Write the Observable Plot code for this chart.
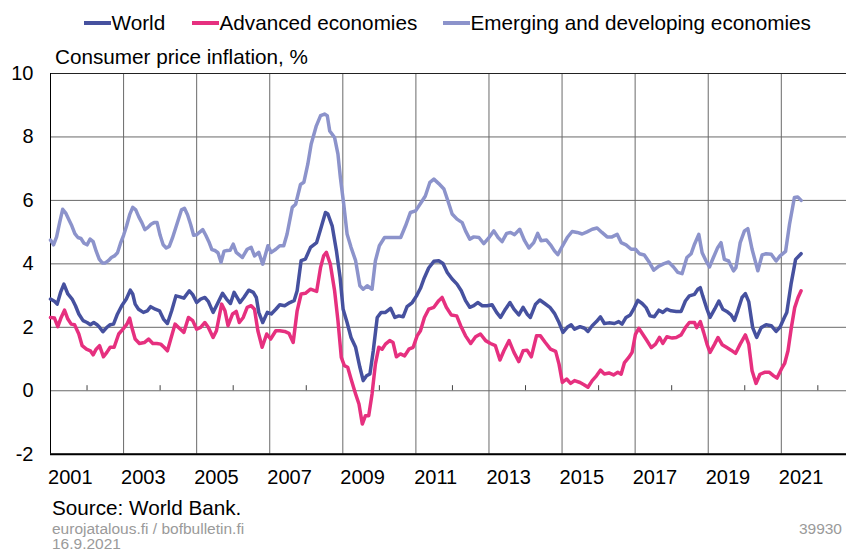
<!DOCTYPE html>
<html><head><meta charset="utf-8">
<script src="https://cdn.jsdelivr.net/npm/d3@7"></script>
<script src="https://cdn.jsdelivr.net/npm/@observablehq/plot@0.6"></script>
<style>
html,body{margin:0;padding:0;background:#fff;overflow:hidden}
#wrap{position:relative;width:846px;height:552px;font-family:"Liberation Sans",Arial,sans-serif;color:#000;overflow:hidden}
#wrap svg{position:absolute;left:0;top:0}
.t{position:absolute;white-space:nowrap;line-height:1}
.lg{position:absolute;top:12.5px;display:flex;align-items:center;gap:1px;font-size:20.7px;line-height:1;white-space:nowrap}
.lg .sw{width:27px;height:4px;display:inline-block}
</style></head><body><div id="wrap"></div>
<script>
// ---- data (months since Jan 2001, inflation %) ----
const seriesNames = ["World", "Advanced economies", "Emerging and developing economies"];
const seriesColors = ["#46519f", "#e6307f", "#8c93cb"];

const emergingMonths = [0,1,2,3,4,5,6,7,8,9,10,11,12,13,14,15,16,17,18,19,20,21,22,23,24,25,26,27,28,29,30,31,32,33,34,35,36,37,38,39,40,41,42,43,44,45,46,47,48,49,50,51,52,53,54,55,56,57,58,59,60,61,63,64.6,65.9,67,68.4,69.7,71.4,72.5,74,75.3,76.6,77.7,79.4,80.5,82.1,83.2,84.5,85.6,87.3,88.7,90,90.9,91.7,93.3,94.4,95.2,96.3,97.4,98.7,100.2,101.6,102.7,104,105.6,106.7,108,109.7,111.4,113.3,115,116.6,118.2,119.9,121.5,123.1,124.6,125.9,127.5,129.2,130.5,131.9,133.5,135.2,136.3,137.7,139,140.7,142.3,144,145.6,147,148.3,149.8,151.1,152.4,154.1,155.7,157.1,158.7,160,161.1,162.9,164.2,165.5,166.6,168,169.7,171.3,173,174.6,176.2,177.9,179.5,181.1,182.8,184.4,186.1,187.4,189,190.7,192.1,193.4,195,196.7,198.1,199.8,201.3,203,204.6,206,207.4,209,210.4,211.5,212.9,214,215.3,216.4,217.7,219.1,220.2,221.3,222.7,224.3,225.1,226.5,227.9,229,230.4,232.3,233.7,235,236.7,238.3,239.6,241.4,242.7,244.3,245.4,246.5];
const emergingValues = [4.75,4.6,4.85,5.3,5.72,5.6,5.4,5.2,4.95,4.83,4.8,4.65,4.6,4.78,4.7,4.4,4.15,4.03,4.03,4.1,4.2,4.25,4.35,4.65,4.9,5.2,5.55,5.78,5.7,5.48,5.3,5.08,5.15,5.25,5.3,5.3,4.9,4.6,4.5,4.55,4.8,5.1,5.4,5.7,5.75,5.55,5.25,4.9,4.92,5.0,5.08,4.9,4.7,4.45,4.42,4.35,4.05,4.4,4.42,4.43,4.62,4.36,4.2,4.46,4.52,4.25,4.36,3.99,4.57,4.36,4.46,4.57,4.57,4.94,5.78,5.88,6.5,6.57,7.14,7.77,8.35,8.67,8.72,8.67,8.19,7.98,7.46,6.72,5.88,4.94,4.52,4.1,3.31,3.2,3.31,3.2,4.1,4.57,4.83,4.83,4.83,4.83,5.2,5.62,5.67,5.9,6.14,6.57,6.67,6.53,6.36,5.99,5.57,5.41,5.3,5.04,4.78,4.85,4.83,4.64,4.83,5.04,4.83,4.7,4.96,4.99,4.92,5.09,4.73,4.5,4.67,4.96,4.73,4.75,4.6,4.41,4.29,4.54,4.83,5.02,4.99,4.94,5.01,5.09,5.13,4.99,4.85,4.85,4.93,4.67,4.6,4.46,4.46,4.32,4.28,4.04,3.8,3.93,4.0,4.06,3.9,3.73,3.69,4.2,4.32,4.62,4.93,4.35,4.09,3.9,4.2,4.51,4.67,4.14,4.09,3.78,3.88,4.67,5.04,5.11,4.46,3.78,4.28,4.32,4.3,4.09,4.25,4.39,5.25,6.09,6.11,6.0];

const worldMonths = [0,1.3,2.2,3.3,4.4,5.7,7.1,8.2,9.3,10.7,12,13.1,14.2,15.3,16.1,17.2,18.5,19.6,20.7,22,23.4,24.9,26.2,27,27.8,28.9,30.5,31.8,32.9,34.4,35.8,37.1,38.4,39.8,41.2,42.5,43.8,45.6,46.7,48,49.3,50.7,51.8,53.4,54.5,56.5,57.8,59.1,60.3,61.6,62.2,63.5,65.1,66.6,67.6,68.4,69.7,71.2,72.5,74,75.3,76.9,78.6,80,81,82.3,83.7,85.4,87.4,88.7,90.3,91.1,92.5,93.9,95.1,96.1,97.4,98.7,100.2,101.6,102.7,103.8,104.9,106,107.3,108.6,110,111.7,113.1,114.4,115.8,117.1,118.8,120.2,121.5,122.6,124.2,125.9,127.5,128.9,130.3,131.9,133.5,134.9,136.3,137.7,139,140.3,141.8,143.4,145,146.5,147.8,149.4,150.9,152.2,153.8,155.2,156.5,157.6,159.3,160.7,162.3,164,165.5,167,168.3,169.7,171,172.1,173.9,175.4,176.5,177.9,179.3,180.6,181.9,183.4,185.2,186.6,187.7,189,190.4,191.5,192.9,194.3,195.6,196.9,198.3,199.8,201.1,202.4,203.8,205.5,207.1,208.5,209.8,211.5,212.6,213.4,214.2,215.6,216.6,218.1,219.5,220.8,222.1,223.5,224.6,225.7,227.1,228.2,229.3,230.6,231.9,233.4,235,236.7,238.3,239.6,241,241.8,243.2,244.7,246.5];
const worldValues = [2.89,2.82,2.73,3.1,3.36,3.05,2.89,2.68,2.42,2.21,2.15,2.08,2.15,2.08,2.0,1.86,2.0,2.08,2.1,2.42,2.68,2.89,3.17,3.05,2.73,2.57,2.47,2.52,2.65,2.57,2.52,2.26,2.12,2.52,2.99,2.96,2.92,3.15,3.03,2.78,2.89,2.94,2.82,2.47,2.68,3.07,2.89,2.75,3.1,2.89,2.78,2.94,3.17,3.1,2.94,2.47,2.15,2.47,2.42,2.57,2.71,2.68,2.78,2.84,3.15,4.1,4.15,4.52,4.67,5.09,5.62,5.57,5.2,4.41,3.57,2.57,2.15,1.68,1.37,0.74,0.32,0.47,0.53,1.26,2.31,2.47,2.47,2.6,2.31,2.36,2.33,2.65,2.78,2.99,3.23,3.52,3.87,4.08,4.1,4.01,3.73,3.52,3.36,3.15,2.84,2.63,2.68,2.78,2.68,2.68,2.71,2.47,2.31,2.57,2.78,2.57,2.39,2.63,2.42,2.31,2.73,2.86,2.75,2.63,2.44,2.15,1.84,2.0,2.08,1.94,2.02,1.97,1.87,2.05,2.18,2.33,2.12,2.14,2.12,2.18,2.1,2.31,2.39,2.57,2.85,2.75,2.62,2.36,2.33,2.54,2.47,2.57,2.52,2.5,2.5,2.83,2.99,3.04,3.2,3.25,2.99,2.57,2.31,2.57,2.83,2.57,2.5,2.39,2.22,2.52,2.94,3.06,2.81,1.99,1.68,1.99,2.08,2.05,1.87,2.01,2.31,2.47,3.36,4.14,4.32];

const advancedMonths = [0,1.3,2.4,3.5,4.6,5.7,6.8,7.9,9.3,10.4,11.8,13.1,14,15,16.1,17.4,18.5,19.6,20.9,22.4,23.8,25.1,26,26.7,27.8,29.2,30.8,32.2,33.6,34.9,36.2,37.3,38.4,39.5,40.9,42.3,43.8,45.3,46.7,48,49.3,50.7,51.8,53.4,54.5,56.2,57.3,58.3,59.8,61,62,63.3,64.6,65.9,67,68.1,69.5,71,72.3,74,75.3,76.9,78.3,79.7,81,82.3,83.7,85.4,87.4,88.7,89.7,90.6,91.9,93.3,94.4,95.5,96.5,97.6,98.7,100.2,101.3,102.4,103.4,104.5,105.6,106.7,107.8,108.9,110,111.4,112.5,113.6,114.9,116.3,117.7,119.1,120.4,121.5,122.8,124.2,125.9,127.5,128.6,130,131.6,133.4,134.7,136.3,138,139.6,141.2,142.9,144.5,146.1,147.6,148.9,150.6,152.2,153.8,155.2,156.5,157.9,159.6,160.9,162.5,164.2,165.9,167,168.1,169.5,170.8,172.1,173.9,175.2,176.5,177.9,179.3,180.6,181.9,183.4,184.9,186.3,187.4,188.5,189.9,191,192.1,193.2,194.5,195.8,197.3,198.7,200,201.1,202.4,204.2,205.5,207.1,208.5,209.8,211.5,212.2,213.4,214.5,215.6,216.6,218.1,219.2,220.6,222.1,223.5,225,226.5,228.2,229.3,230.4,231.7,233,234.5,236.1,237.5,238.6,240,241.1,242.2,243.3,244.4,245.5,246.5];
const advancedValues = [2.31,2.29,2.02,2.31,2.54,2.26,2.1,2.08,1.79,1.42,1.31,1.26,1.13,1.31,1.42,1.07,1.21,1.37,1.37,1.79,1.94,2.1,2.29,2.0,1.63,1.49,1.52,1.63,1.49,1.49,1.47,1.37,1.26,1.63,2.1,1.97,1.84,2.31,2.21,1.94,2.0,2.15,2.0,1.68,1.89,2.73,2.52,2.05,2.42,2.5,2.15,2.31,2.63,2.68,2.57,1.89,1.37,1.79,1.63,1.89,1.89,1.87,1.81,1.52,2.52,3.05,3.07,3.2,3.13,3.89,4.25,4.36,3.99,3.15,2.21,1.05,0.79,0.74,0.37,-0.1,-0.42,-1.05,-0.79,-0.79,-0.1,0.84,1.37,1.31,1.47,1.58,1.52,1.07,1.16,1.1,1.31,1.37,1.73,1.89,2.31,2.57,2.63,2.84,2.94,2.63,2.39,2.36,2.05,1.73,1.49,1.7,1.79,1.58,1.49,1.42,0.97,1.26,1.58,1.21,0.92,1.26,1.28,1.07,1.73,1.73,1.52,1.31,1.24,0.84,0.26,0.37,0.23,0.32,0.26,0.19,0.11,0.32,0.47,0.65,0.53,0.56,0.5,0.58,0.52,0.89,1.05,1.21,1.78,1.97,1.78,1.59,1.36,1.47,1.68,1.49,1.7,1.66,1.68,1.76,1.99,2.15,2.15,1.99,2.18,1.84,1.47,1.21,1.47,1.68,1.45,1.36,1.28,1.18,1.47,1.76,1.47,0.63,0.23,0.52,0.58,0.58,0.47,0.4,0.68,0.86,1.26,1.99,2.62,2.94,3.15];

const yTicks = [-2, 0, 2, 4, 6, 8, 10];
const gridYears = [2003, 2005, 2007, 2009, 2011, 2013, 2015, 2017, 2019, 2021];
const minorTickYears = [2002, 2004, 2006, 2008, 2010, 2012, 2014, 2016, 2018, 2020, 2022];
const labelYears = [2001, 2003, 2005, 2007, 2009, 2011, 2013, 2015, 2017, 2019, 2021];
const xStart = 2001, xEnd = 2023;

const yTitle = "Consumer price inflation, %";
const sourceText = "Source: World Bank.";
const siteText = "eurojatalous.fi / bofbulletin.fi";
const dateText = "16.9.2021";
const codeText = "39930";

// ---- build ----
const toRows = (months, values) => months.map((m, i) => ({t: 2001 + m / 12, v: values[i]}));
const emerging = toRows(emergingMonths, emergingValues);
const world = toRows(worldMonths, worldValues);
const advanced = toRows(advancedMonths, advancedValues);

const font = '"Liberation Sans", Arial, sans-serif';
const pxPerYear = 36.54;
const chart = Plot.plot({
  width: 846,
  height: 552,
  marginLeft: 50,
  marginRight: 0,
  marginTop: 73,
  marginBottom: 98.3,
  style: {fontFamily: font, fontSize: "20px", background: "transparent", color: "#000"},
  x: {type: "linear", domain: [xStart, xEnd], range: [50, 50 + (xEnd - xStart) * pxPerYear]},
  y: {domain: [-2, 10]},
  marks: [
    Plot.ruleY(yTicks, {stroke: "#6a6a6a", strokeWidth: 1}),
    Plot.ruleX(gridYears, {stroke: "#6a6a6a", strokeWidth: 1}),
    Plot.ruleX(minorTickYears, {x: d => d, y1: 0, y2: 0.16, stroke: "#444", strokeWidth: 1}),
    Plot.ruleY([10], {stroke: "#222", strokeWidth: 1}),
    Plot.ruleX([xStart], {stroke: "#000", strokeWidth: 1}),
    Plot.ruleY([-2], {stroke: "#000", strokeWidth: 2}),
    Plot.line(emerging, {x: "t", y: "v", stroke: seriesColors[2], strokeWidth: 3.5, strokeLinejoin: "round"}),
    Plot.line(advanced, {x: "t", y: "v", stroke: seriesColors[1], strokeWidth: 3.5, strokeLinejoin: "round"}),
    Plot.line(world, {x: "t", y: "v", stroke: seriesColors[0], strokeWidth: 3.5, strokeLinejoin: "round"}),
    Plot.axisY({ticks: yTicks, tickSize: 0, tickPadding: 17, label: null, fontSize: 20, tickFormat: d => String(d)}),
    Plot.axisX({ticks: labelYears.map(y => y + 0.5), tickFormat: d => String(Math.floor(d)), tickSize: 0, tickPadding: 16, label: null, fontSize: 20, dx: 1.5})
  ]
});

const wrap = document.getElementById("wrap");
wrap.appendChild(chart);

// legend (swatch left edges in pixels)
const legendLeft = [83.5, 191.5, 442.5];
seriesNames.forEach((name, i) => {
  const it = document.createElement("div");
  it.className = "lg";
  it.style.left = legendLeft[i] + "px";
  const sw = document.createElement("span");
  sw.className = "sw";
  sw.style.background = seriesColors[i];
  const tx = document.createElement("span");
  tx.textContent = name;
  it.appendChild(sw); it.appendChild(tx);
  wrap.appendChild(it);
});

function addText(text, left, top, size, color, right) {
  const d = document.createElement("div");
  d.className = "t";
  d.textContent = text;
  if (right !== undefined) d.style.right = right + "px"; else d.style.left = left + "px";
  d.style.top = top + "px";
  d.style.fontSize = size + "px";
  d.style.color = color;
  wrap.appendChild(d);
}
addText(yTitle, 55, 46.5, 20.7, "#000");
addText(sourceText, 52, 497.5, 20.7, "#000");
addText(siteText, 52, 520.5, 15.5, "#9a9a9a");
addText(dateText, 52, 536.3, 15.5, "#9a9a9a");
addText(codeText, 0, 520.5, 15.5, "#9a9a9a", 4);
</script></body></html>
